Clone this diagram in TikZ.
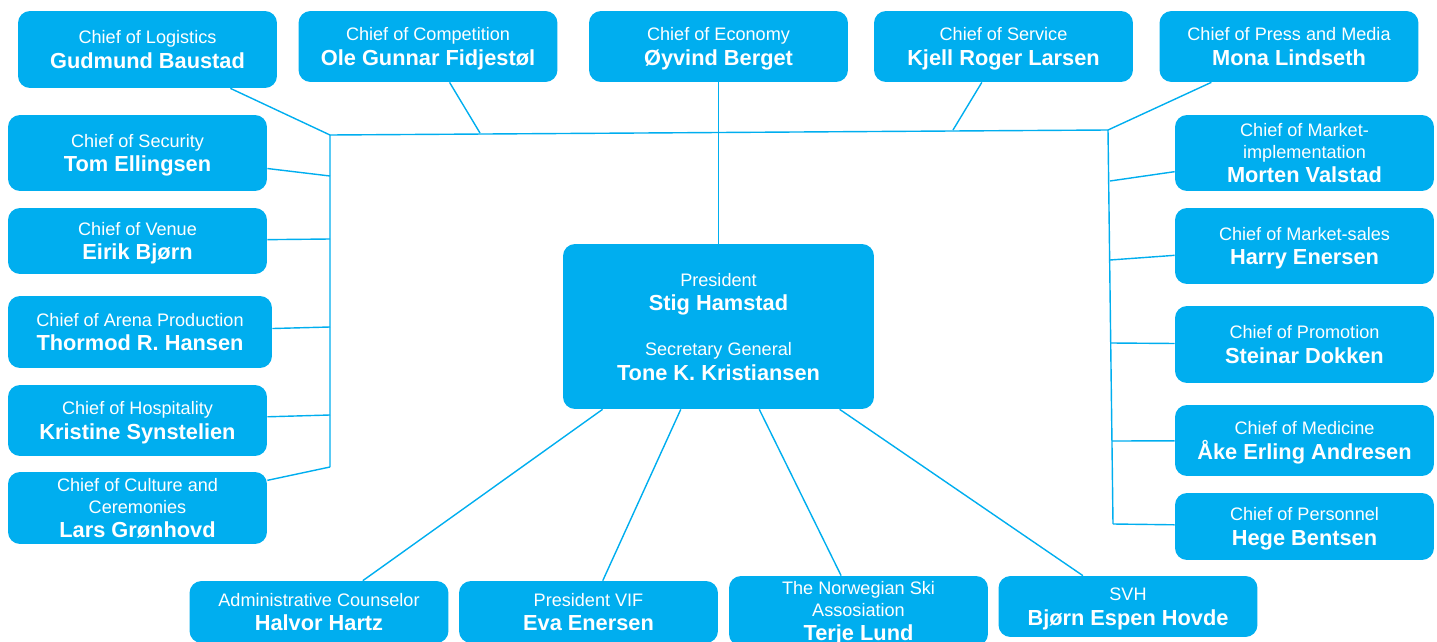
\documentclass[tikz,border=0pt]{standalone}
\usepackage{fontspec}
\setmainfont{Liberation Sans}
\definecolor{skyblue}{RGB}{0,174,239}
\newcommand{\who}[1]{\raisebox{0pt}[\height][0pt]{\fontsize{12.4}{13}\selectfont\bfseries #1}}
\newcommand{\nl}{\\[1.5pt]}
\tikzset{
	box/.style={draw=none, fill=skyblue, text=white, rounded corners=0.24cm, align=center,
		minimum width=5.18cm, inner sep=1pt, font=\fontsize{10.3}{12.5}\selectfont},
	link/.style={draw=skyblue, line width=0.8pt}
}
\begin{document}
\begin{tikzpicture}[x=0.02cm,y=-0.02cm]
		\useasboundingbox (0,0) rectangle (1437,642);
		\node (log) at (147.5,49.5) [box, minimum height=1.54cm] {Chief of Logistics\nl\who{Gudmund Baustad}};
		\node (comp) at (428,46.5) [box, minimum height=1.42cm] {Chief of Competition\nl\who{Ole Gunnar Fidjestøl}};
		\node (econ) at (718.5,46.5) [box, minimum height=1.42cm] {Chief of Economy\nl\who{Øyvind Berget}};
		\node (serv) at (1003.5,46.5) [box, minimum height=1.42cm] {Chief of Service\nl\who{Kjell Roger Larsen}};
		\node (press) at (1289,46.5) [box, minimum height=1.42cm] {Chief of Press and Media\nl\who{Mona Lindseth}};
		\node (sec) at (137.5,153) [box, minimum height=1.52cm] {Chief of Security\nl\who{Tom Ellingsen}};
		\node (venue) at (137.5,241) [box, minimum height=1.32cm] {Chief of Venue\nl\who{Eirik Bjørn}};
		\node (arena) at (140,332) [box, minimum height=1.44cm, minimum width=5.28cm] {Chief of Arena Production\nl\who{Thormod R. Hansen}};
		\node (hosp) at (137.5,420.5) [box, minimum height=1.42cm] {Chief of Hospitality\nl\who{Kristine Synstelien}};
		\node (cult) at (137.5,508) [box, minimum height=1.44cm] {Chief of Culture and\\Ceremonies\nl\who{Lars Grønhovd}};
		\node (mimpl) at (1304.5,153) [box, minimum height=1.52cm] {Chief of Market-\\implementation\nl\who{Morten Valstad}};
		\node (msales) at (1304.5,246) [box, minimum height=1.52cm] {Chief of Market-sales\nl\who{Harry Enersen}};
		\node (promo) at (1304.5,344.5) [box, minimum height=1.54cm] {Chief of Promotion\nl\who{Steinar Dokken}};
		\node (medic) at (1304.5,440.5) [box, minimum height=1.42cm] {Chief of Medicine\nl\who{Åke Erling Andresen}};
		\node (pers) at (1304.5,526.5) [box, minimum height=1.34cm] {Chief of Personnel\nl\who{Hege Bentsen}};
		\node (pres) at (718.5,326.5) [box, minimum height=3.3cm, minimum width=6.22cm] {President\nl\who{Stig Hamstad}\\[13pt]Secretary General\nl\who{Tone K. Kristiansen}};
		\node (adm) at (319,612) [box, minimum height=1.24cm] {Administrative Counselor\nl\who{Halvor Hartz}};
		\node (vif) at (588.5,612) [box, minimum height=1.24cm] {President VIF\nl\who{Eva Enersen}};
		\node (nsa) at (858.5,611) [box, minimum height=1.4cm] {The Norwegian Ski\\Assosiation\nl\who{Terje Lund}};
		\node (svh) at (1128,606.5) [box, minimum height=1.22cm] {SVH\nl\who{Bjørn Espen Hovde}};
		\coordinate (tl) at (330,135);
		\coordinate (tr) at (1108,130);
		\coordinate (lb) at (330,467);
		\coordinate (rb) at (1113,524);
		\coordinate (t1) at (480,133);
		\coordinate (t2) at (953,130);
		\coordinate (l1) at (330,176);
		\coordinate (l2) at (330,239);
		\coordinate (l3) at (330,327);
		\coordinate (l4) at (330,415);
		\coordinate (r1) at (1110,181);
		\coordinate (r2) at (1110,260);
		\coordinate (r3) at (1111,343);
		\coordinate (r4) at (1112,441);
		\draw [link] (lb) -- (tl) -- (tr) -- (rb);
		\draw [link] (log) edge (tl);
		\draw [link] (comp) edge (t1);
		\draw [link] (serv) edge (t2);
		\draw [link] (press) edge (tr);
		\draw [link] (econ) edge (pres);
		\draw [link] (sec) edge (l1);
		\draw [link] (venue) edge (l2);
		\draw [link] (arena) edge (l3);
		\draw [link] (hosp) edge (l4);
		\draw [link] (cult) edge (lb);
		\draw [link] (mimpl) edge (r1);
		\draw [link] (msales) edge (r2);
		\draw [link] (promo) edge (r3);
		\draw [link] (medic) edge (r4);
		\draw [link] (pers) edge (rb);
		\draw [link] (pres) edge (adm);
		\draw [link] (pres) edge (vif);
		\draw [link] (pres) edge (nsa);
		\draw [link] (pres) edge (svh);
\end{tikzpicture}
\end{document}
